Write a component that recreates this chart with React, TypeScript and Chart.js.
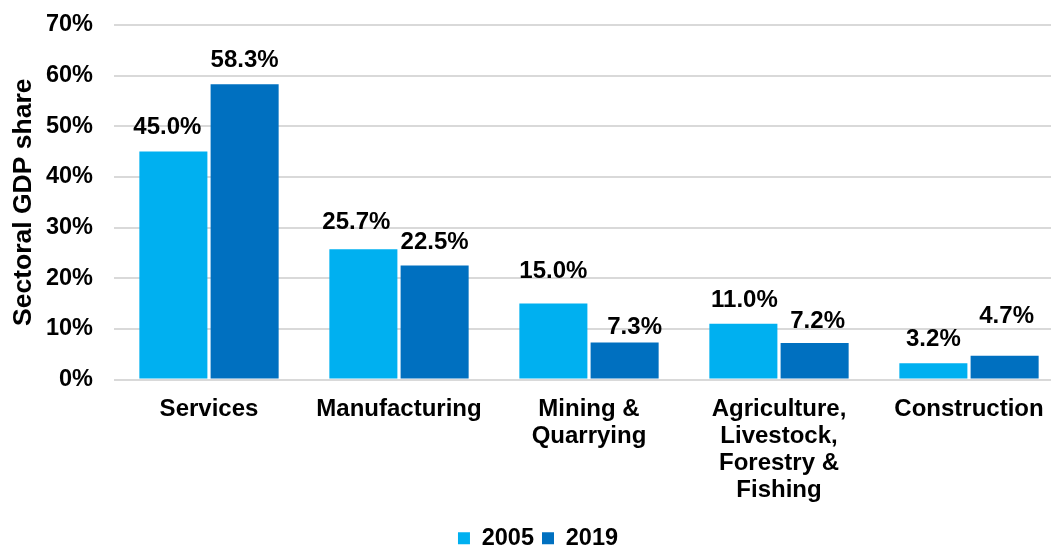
import React, { useEffect, useRef } from "react";
import { Chart, registerables } from "chart.js";

Chart.register(...registerables);

const categories: (string | string[])[] = [
  "Services",
  "Manufacturing",
  ["Mining &", "Quarrying"],
  ["Agriculture,", "Livestock,", "Forestry &", "Fishing"],
  "Construction",
];
const series2005 = [45.0, 25.7, 15.0, 11.0, 3.2];
const series2019 = [58.3, 22.5, 7.3, 7.2, 4.7];
const seriesNames = ["2005", "2019"];
const yTicks = [0, 10, 20, 30, 40, 50, 60, 70];

// manual data-label placement (pixel nudges, as in the source chart)
const labelDx2005 = [-6, -7, 0, 1, 0];
const labelDy2005 = [18, 20, 26, 17, 17];
const labelDx2019 = [0, 0, 10, 3, 2];
const labelDy2019 = [17, 17, 9, 15, 33];

const FONT = "'Liberation Sans', Arial, sans-serif";

const dataLabelPlugin = {
  id: "dataLabels",
  afterDatasetsDraw(chart: any) {
    const ctx = chart.ctx;
    const dxs = [labelDx2005, labelDx2019];
    const dys = [labelDy2005, labelDy2019];
    ctx.save();
    ctx.font = `bold 24px ${FONT}`;
    ctx.fillStyle = "#000";
    ctx.textAlign = "center";
    ctx.textBaseline = "alphabetic";
    chart.data.datasets.forEach((ds: any, i: number) => {
      const meta = chart.getDatasetMeta(i);
      meta.data.forEach((bar: any, j: number) => {
        const v = ds.data[j];
        ctx.fillText(v.toFixed(1) + "%", bar.x + dxs[i][j], bar.y - dys[i][j]);
      });
    });
    ctx.restore();
  },
};

export default function App() {
  const ref = useRef<HTMLCanvasElement>(null);
  useEffect(() => {
    document.body.style.margin = "0";
    const chart = new Chart(ref.current!, {
      type: "bar",
      data: {
        labels: categories,
        datasets: [
          {
            label: seriesNames[0],
            data: series2005,
            backgroundColor: "#00b0f0",
            categoryPercentage: 0.75,
            barPercentage: 0.955,
          },
          {
            label: seriesNames[1],
            data: series2019,
            backgroundColor: "#0070c0",
            categoryPercentage: 0.75,
            barPercentage: 0.955,
          },
        ],
      },
      options: {
        responsive: false,
        animation: false,
        devicePixelRatio: 1,
        layout: { padding: { top: 25, left: 12, right: 0, bottom: 0 } },
        plugins: {
          tooltip: { enabled: false },
          legend: {
            position: "bottom",
            labels: {
              color: "#000",
              font: { family: FONT, size: 23.5, weight: "bold" },
              boxWidth: 12,
              boxHeight: 12,
              padding: 8,
            },
          },
        },
        scales: {
          x: {
            grid: { display: false },
            border: { display: false },
            ticks: {
              color: "#000",
              font: { family: FONT, size: 24, weight: "bold", lineHeight: 1.125 },
              maxRotation: 0,
              autoSkip: false,
              padding: 8,
            },
            afterFit(scale: any) {
              scale.height = 139;
            },
          },
          y: {
            min: 0,
            max: 70,
            afterBuildTicks(scale: any) {
              scale.ticks = yTicks.map((v) => ({ value: v }));
            },
            grid: {
              color: "#d9d9d9",
              lineWidth: 2,
              drawTicks: true,
              tickLength: 21,
              tickColor: "rgba(0,0,0,0)",
            },
            border: { display: false },
            ticks: {
              color: "#000",
              font: { family: FONT, size: 23.5, weight: "bold" },
              padding: 0,
              callback: (v: any) => v + "%",
            },
            title: {
              display: true,
              text: "Sectoral GDP share",
              color: "#000",
              font: { family: FONT, size: 26.5, weight: "bold" },
              padding: { top: -4, bottom: 0 },
            },
            afterFit(scale: any) {
              scale.width = 102;
            },
          },
        },
      },
      plugins: [dataLabelPlugin],
    });
    return () => chart.destroy();
  }, []);
  return (
    <div style={{ width: 1051, height: 549, overflow: "hidden", background: "#fff" }}>
      <canvas ref={ref} width={1064} height={560} style={{ display: "block" }} />
    </div>
  );
}
